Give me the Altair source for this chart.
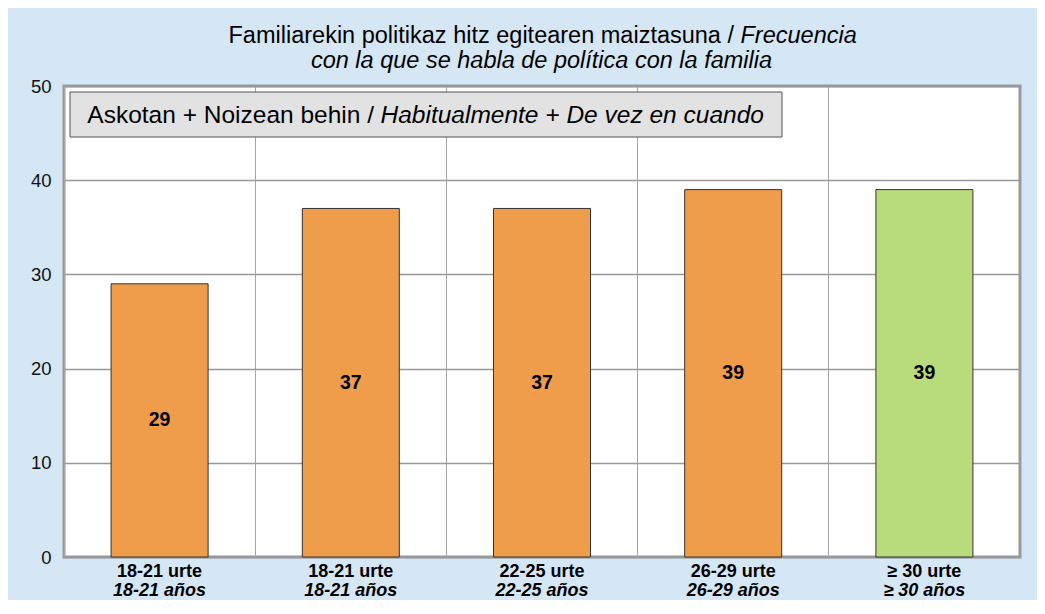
import altair as alt
import pandas as pd

keys = ["c1", "c2", "c3", "c4", "c5"]
line1 = ["18-21 urte", "18-21 urte", "22-25 urte", "26-29 urte", "≥ 30 urte"]
line2 = ["18-21 años", "18-21 años", "22-25 años", "26-29 años", "≥ 30 años"]
values = [29, 37, 37, 39, 39]
colors = ["#F09D4B", "#F09D4B", "#F09D4B", "#F09D4B", "#B8DC7B"]
y_ticks = [0, 10, 20, 30, 40, 50]

df = pd.DataFrame({"key": keys, "l1": line1, "l2": line2, "v": values, "color": colors})

W, H = 956, 471
FONT = "Liberation Sans"

x = alt.X("key:N", sort=keys,
          scale=alt.Scale(paddingInner=0, paddingOuter=0),
          axis=alt.Axis(title=None, labels=False, ticks=False, domain=False,
                        grid=True, gridColor="#A6A6A6", gridWidth=1, bandPosition=0))
y = alt.Y("v:Q", scale=alt.Scale(domain=[0, 50], nice=False),
          axis=alt.Axis(title=None, values=y_ticks, ticks=False, domain=False,
                        grid=True, gridColor="#999999", gridWidth=1.5,
                        labelFont=FONT, labelFontSize=18.5, labelColor="#111111",
                        labelPadding=13))

base = alt.Chart(df)

bars = base.mark_bar(size=97, stroke="#333333", strokeWidth=1).encode(
    x=x, y=y, fill=alt.Color("color:N", scale=None)
)

labels = base.transform_calculate(mid="datum.v / 2").mark_text(
    font=FONT, fontSize=19.5, fontWeight="bold", color="#000000"
).encode(x=alt.X("key:N", sort=keys), y=alt.Y("mid:Q"), text="v:Q")

xl1 = base.mark_text(font=FONT, fontSize=18, fontWeight="bold", color="#000000",
                     baseline="middle").encode(
    x=alt.X("key:N", sort=keys), y=alt.value(H + 15), text="l1:N")
xl2 = base.mark_text(font=FONT, fontSize=18, fontWeight="bold", fontStyle="italic",
                     color="#000000", baseline="middle").encode(
    x=alt.X("key:N", sort=keys), y=alt.value(H + 33.5), text="l2:N")

ann = alt.Chart(pd.DataFrame({"a": [0]}))

box = ann.mark_rect(fill="#E2E2E2", stroke="#555555", strokeWidth=1).encode(
    x=alt.value(6), x2=alt.value(718), y=alt.value(6), y2=alt.value(51))
box_t1 = ann.mark_text(font=FONT, fontSize=24.5, align="right", baseline="alphabetic",
                       color="#000000").encode(
    x=alt.value(310), y=alt.value(37), text=alt.value("Askotan + Noizean behin /"))
box_t2 = ann.mark_text(font=FONT, fontSize=24.5, fontStyle="italic", align="left",
                       baseline="alphabetic", color="#000000").encode(
    x=alt.value(316.5), y=alt.value(37), text=alt.value("Habitualmente + De vez en cuando"))

t1a = ann.mark_text(font=FONT, fontSize=23.5, align="right", baseline="middle",
                    color="#000000").encode(
    x=alt.value(670), y=alt.value(-50),
    text=alt.value("Familiarekin politikaz hitz egitearen maiztasuna /"))
t1b = ann.mark_text(font=FONT, fontSize=23.5, fontStyle="italic", align="left",
                    baseline="middle", color="#000000").encode(
    x=alt.value(676.5), y=alt.value(-50), text=alt.value("Frecuencia"))
t2 = ann.mark_text(font=FONT, fontSize=23.5, fontStyle="italic", align="center",
                   baseline="middle", color="#000000").encode(
    x=alt.value(477.5), y=alt.value(-25),
    text=alt.value("con la que se habla de política con la familia"))

chart = alt.layer(bars, labels, xl1, xl2, box, box_t1, box_t2, t1a, t1b, t2).properties(
    width=W, height=H,
    autosize=alt.AutoSizeParams(type="none"),
    padding={"left": 56, "top": 78, "right": 17, "bottom": 43},
    background="#D5E6F4",
).configure_view(
    fill="#FFFFFF", stroke="#999999", strokeWidth=3
)

chart.save("out.html", embed_options={"renderer": "svg", "actions": False})
